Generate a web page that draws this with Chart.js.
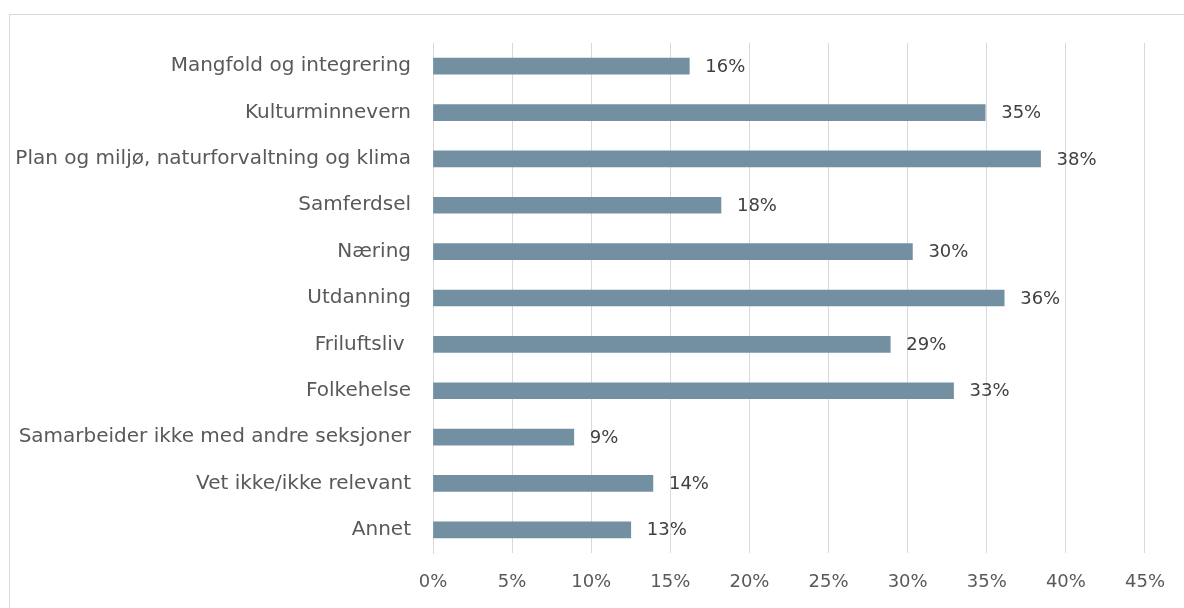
<!DOCTYPE html>
<html><head><meta charset="utf-8">
<script src="https://cdn.jsdelivr.net/npm/chart.js@4"></script>
<style>
html,body{margin:0;padding:0;background:#fff;overflow:hidden;width:1184px;height:608px}
#box{position:absolute;left:9px;top:14px;width:1200px;height:640px;border:1px solid #d9d9d9;box-sizing:border-box}
#wrap{position:absolute;left:10px;top:15px;width:1174px;height:593px}
</style></head><body>
<div id="box"></div>
<div id="wrap"><canvas id="c"></canvas></div>
<script>
const categories = ["Mangfold og integrering","Kulturminnevern","Plan og miljø, naturforvaltning og klima","Samferdsel","Næring","Utdanning","Friluftsliv ","Folkehelse","Samarbeider ikke med andre seksjoner","Vet ikke/ikke relevant","Annet"];
const values = [16.2, 34.9, 38.4, 18.2, 30.3, 36.1, 28.9, 32.9, 8.9, 13.9, 12.5];
const valueLabels = ["16%","35%","38%","18%","30%","36%","29%","33%","9%","14%","13%"];
const tickValues = [0,5,10,15,20,25,30,35,40,45];

const FONT = "'DejaVu Sans', sans-serif";
const labelPlugin = {
  id:'vlabels',
  afterDatasetsDraw(chart){
    const ctx = chart.ctx;
    const meta = chart.getDatasetMeta(0);
    ctx.save();
    ctx.font = "18px " + FONT;
    ctx.fillStyle = "#404040";
    ctx.textAlign = "left";
    ctx.textBaseline = "middle";
    meta.data.forEach((bar,i)=>{
      ctx.fillText(valueLabels[i], bar.x + 16, bar.y + 1);
    });
    ctx.restore();
  }
};

new Chart(document.getElementById('c'), {
  type:'bar',
  data:{labels:categories, datasets:[{data:values, backgroundColor:'#7390A3', borderWidth:0, barThickness:16}]},
  options:{
    indexAxis:'y',
    responsive:true, maintainAspectRatio:false, animation:false,
    layout:{padding:{top:28,right:38,left:0,bottom:0}},
    plugins:{legend:{display:false}, tooltip:{enabled:false}},
    scales:{
      x:{min:0,max:45,
        afterBuildTicks(s){ s.ticks = tickValues.map(v=>({value:v})); },
        afterFit(s){ s.height = 55; },
        grid:{color:'#d9d9d9', lineWidth:1, drawTicks:false},
        border:{display:false},
        ticks:{padding:19, color:'#595959', font:{family:FONT, size:18}, callback:(v)=>v+'%'}
      },
      y:{
        afterFit(s){ s.width = 423; s.paddingTop = 0; s.paddingBottom = 0; },
        grid:{display:false, drawTicks:false},
        border:{display:true, color:'#d9d9d9', width:1},
        ticks:{padding:22, color:'#595959', font:{family:FONT, size:20}}
      }
    }
  },
  plugins:[labelPlugin]
});
</script>
</body></html>
